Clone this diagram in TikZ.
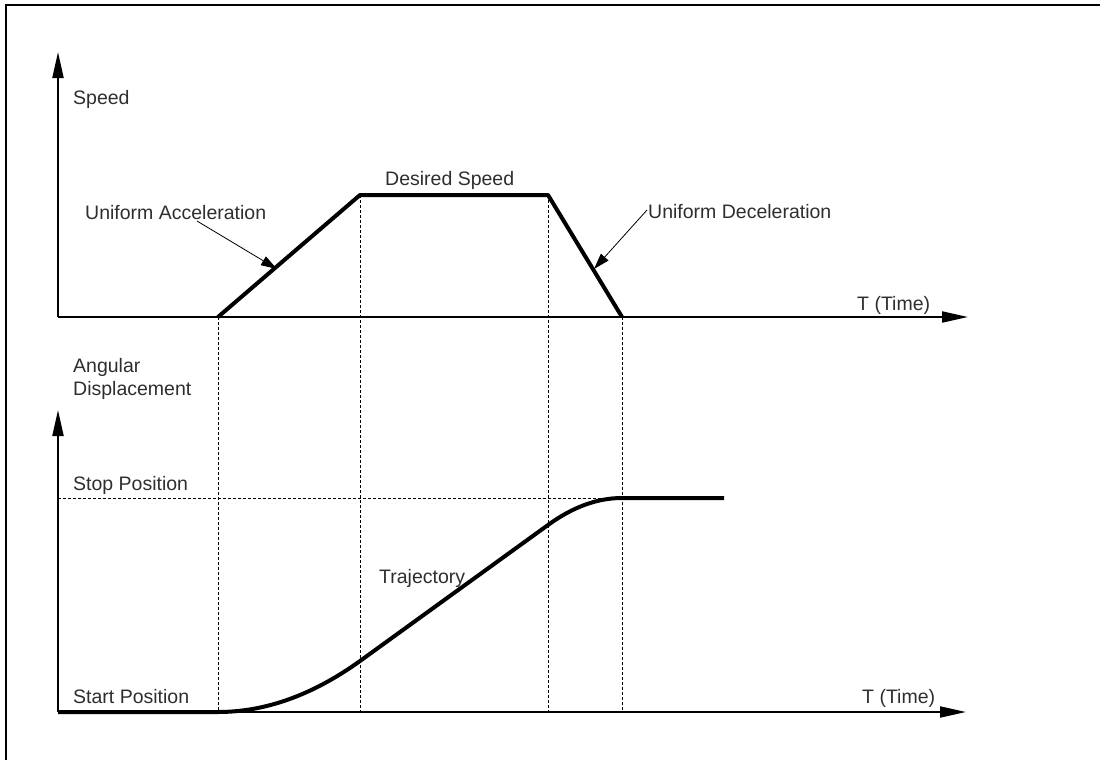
\documentclass[tikz,border=0pt]{standalone}
\usepackage{fontspec}
\setmainfont{Liberation Sans}
\usetikzlibrary{arrows.meta}
\begin{document}
\begin{tikzpicture}[x=1pt,y=-1pt,
  lbl/.style={anchor=base west,inner sep=0pt,text=black!82,
    font=\fontsize{19.5}{23}\selectfont},
  axis/.style={line width=2pt,-{Triangle[length=26pt,width=11pt]}},
  profile/.style={line width=4pt,line join=round},
  guide/.style={line width=0.9pt,dash pattern=on 3pt off 2pt},
  pointer/.style={line width=0.8pt,-{Triangle[length=16pt,width=10pt]}}]
\useasboundingbox (0,0) rectangle (1100,760);
% outer frame (only its top and left edges fall inside the page)
\begin{scope}
\clip (0,0) rectangle (1100,760);
\draw[line width=2pt] (6,5) rectangle (1130,800);
\end{scope}

% ---- speed profile ----
\coordinate (o1) at (58,317);
\coordinate (y1) at (58,52);
\coordinate (x1) at (968,317);
\coordinate (a0) at (218,317);
\coordinate (a1) at (360,195);
\coordinate (a2) at (548,195);
\coordinate (a3) at (622,317);

% ---- displacement profile ----
\coordinate (o2) at (58,712);
\coordinate (y2) at (58,410);
\coordinate (x2) at (966,712);
\coordinate (b0) at (218,712);
\coordinate (b1) at (360,661);
\coordinate (b2) at (548,525);
\coordinate (b3) at (622,498);
\coordinate (b4) at (724,498);
\coordinate (s0) at (58,498);

% dashed guides
\draw[guide] (a0) -- (b0);
\draw[guide] (a1) -- (360,712);
\draw[guide] (a2) -- (548,712);
\draw[guide] (a3) -- (622,712);
\draw[guide] (s0) -- (b3);

% axes
\draw[axis] (o1) -- (y1);
\draw[axis] (o1) -- (x1);
\draw[axis] (o2) -- (y2);
\draw[axis] (o2) -- (x2);

% speed trapezoid
\draw[profile] (a0) -- (a1) -- (a2) -- (a3);

% trajectory
\draw[profile] (o2) -- (b0)
  .. controls (265.3,712) and (312.7,695) .. (b1)
  -- (b2)
  .. controls (572.7,507) and (597.3,498) .. (b3)
  -- (b4);

% labels
\node[lbl] (speed) at (73,104) {Speed};
\node[lbl] (acc) at (85,219) {Uniform Acceleration};
\node[lbl] (des) at (385,185) {Desired Speed};
\node[lbl] (dec) at (648,218) {Uniform Deceleration};
\node[lbl] (t1) at (857,310) {T (Time)};
\node[lbl,align=left] (ang) at (73,395) {Angular\\Displacement};
\node[lbl] (stop) at (73,490) {Stop Position};
\node[lbl] (traj) at (379,583) {Trajectory};
\node[lbl] (start) at (73,703) {Start Position};
\node[lbl] (t2) at (862,703) {T (Time)};

% pointers to the ramps
\coordinate (pa) at (197,221);
\coordinate (pa1) at (277,269);
\coordinate (pd) at (647,210);
\coordinate (pd1) at (594,269);
\draw[pointer] (pa) -- (pa1);
\draw[pointer] (pd) -- (pd1);
\end{tikzpicture}
\end{document}
